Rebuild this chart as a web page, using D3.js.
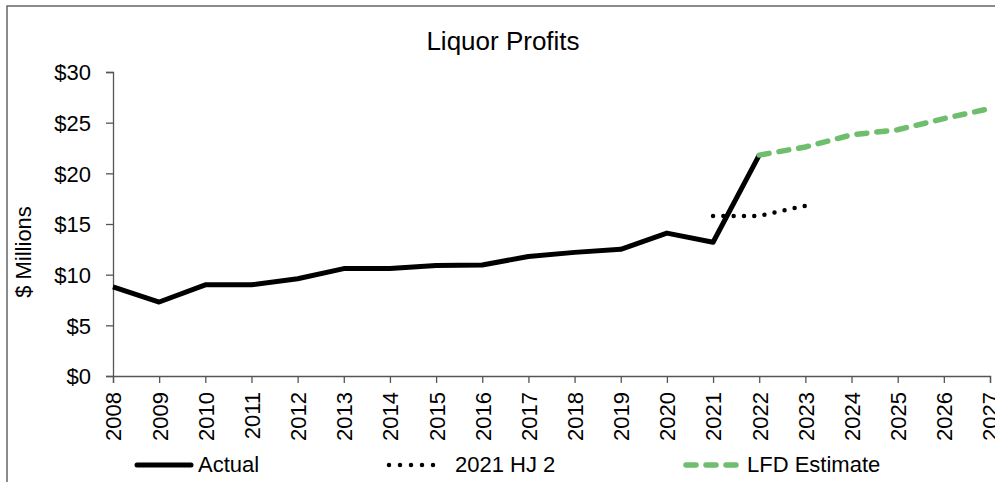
<!DOCTYPE html>
<html><head><meta charset="utf-8">
<script src="https://cdn.jsdelivr.net/npm/d3@7"></script>
<style>body{margin:0;background:#fff}svg{display:block;font-family:"Liberation Sans",Arial,sans-serif}</style>
</head><body><svg id="c" width="995" height="482"></svg>
<script>
const years = [2008,2009,2010,2011,2012,2013,2014,2015,2016,2017,2018,2019,2020,2021,2022,2023,2024,2025,2026,2027];
const actualYears = [2008,2009,2010,2011,2012,2013,2014,2015,2016,2017,2018,2019,2020,2021,2022];
const actualValues = [8.8,7.3,9.0,9.0,9.6,10.6,10.6,10.9,10.95,11.8,12.2,12.5,14.1,13.2,21.8];
const hjYears = [2021,2022,2023];
const hjValues = [15.8,15.8,16.8];
const lfdYears = [2022,2023,2024,2025,2026,2027];
const lfdValues = [21.8,22.6,23.8,24.3,25.4,26.4];
const yTicks = [0,5,10,15,20,25,30];
const green = "#6fbe6e";

const svg = d3.select("#c");
svg.append("rect").attr("x",7).attr("y",6).attr("width",1100).attr("height",600)
  .attr("fill","none").attr("stroke","#666").attr("stroke-width",1.5);

const x = d3.scaleLinear().domain([2008,2027]).range([113,990]);
const y = d3.scaleLinear().domain([0,30]).range([376,72]);

svg.append("text").attr("x",503).attr("y",50).attr("text-anchor","middle")
  .attr("font-size",26).text("Liquor Profits");

const ya = svg.append("g").attr("transform","translate(113,0)")
  .call(d3.axisLeft(y).tickValues(yTicks).tickFormat(d=>"$"+d).tickSize(7).tickPadding(15));
ya.selectAll("text").attr("font-size",22).attr("fill","#000").attr("dy","0.35em").attr("font-family","Liberation Sans, Arial, sans-serif");

const xa = svg.append("g").attr("transform","translate(0,376)")
  .call(d3.axisBottom(x).tickValues(years).tickFormat(d=>String(d)).tickSize(7).tickPadding(9));
xa.selectAll("text").attr("font-size",22).attr("fill","#000").attr("font-family","Liberation Sans, Arial, sans-serif")
  .attr("transform","rotate(-90)").attr("text-anchor","end").attr("x",-16).attr("y",0).attr("dy","0.36em");
svg.selectAll(".domain, .tick line").attr("stroke","#555").attr("stroke-width",1.3);

svg.append("text").attr("transform","translate(31,252) rotate(-90)").attr("text-anchor","middle")
  .attr("font-size",22).text("$ Millions");

const line = d3.line().x(d=>x(d[0])).y(d=>y(d[1]));
svg.append("path").datum(actualYears.map((d,i)=>[d,actualValues[i]]))
  .attr("d",line).attr("fill","none").attr("stroke","#000").attr("stroke-width",5).attr("stroke-linejoin","round");
svg.append("path").datum(hjYears.map((d,i)=>[d,hjValues[i]]))
  .attr("d",line).attr("fill","none").attr("stroke","#000").attr("stroke-width",4.5)
  .attr("stroke-linecap","round").attr("stroke-dasharray","0,10.3");
svg.append("path").datum(lfdYears.map((d,i)=>[d,lfdValues[i]]))
  .attr("d",line).attr("fill","none").attr("stroke",green).attr("stroke-width",5.5)
  .attr("stroke-linecap","round").attr("stroke-dasharray","10,10");

// legend
const ly = 465;
const lg = svg.append("g");
lg.append("line").attr("x1",137).attr("x2",191).attr("y1",ly).attr("y2",ly)
  .attr("stroke","#000").attr("stroke-width",5).attr("stroke-linecap","round");
lg.append("text").attr("x",198).attr("y",472).attr("font-size",22).text("Actual");
lg.append("line").attr("x1",389).attr("x2",444).attr("y1",ly).attr("y2",ly)
  .attr("stroke","#000").attr("stroke-width",4.5).attr("stroke-linecap","round").attr("stroke-dasharray","0,11");
lg.append("text").attr("x",455).attr("y",472).attr("font-size",22).text("2021 HJ 2");
lg.append("line").attr("x1",686).attr("x2",736).attr("y1",ly).attr("y2",ly)
  .attr("stroke",green).attr("stroke-width",5.5).attr("stroke-linecap","round").attr("stroke-dasharray","10,10");
lg.append("text").attr("x",747).attr("y",472).attr("font-size",22).text("LFD Estimate");
</script></body></html>
